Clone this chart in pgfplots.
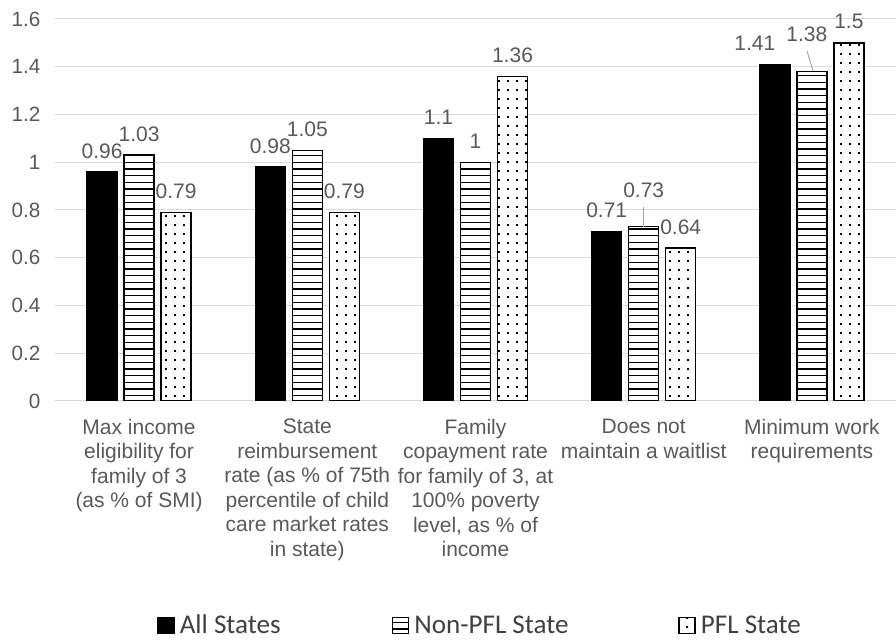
\documentclass[border=0pt]{standalone}
\usepackage{fontspec}
\setmainfont{Liberation Sans}
\newfontfamily\legendfont{Carlito}
\usepackage{pgfplots}
\pgfplotsset{compat=1.18}
\usepackage{pgfplotstable}
\usetikzlibrary{patterns}

\definecolor{labelgray}{HTML}{595959}
\definecolor{gridgray}{HTML}{D9D9D9}
\definecolor{legendgray}{HTML}{404040}
\definecolor{leadergray}{HTML}{A6A6A6}

% fill patterns for the bars
\pgfdeclarepatternformonly{hstripes}{\pgfpoint{-1pt}{0pt}}{\pgfpoint{2pt}{5pt}}{\pgfpoint{1pt}{5pt}}{%
  \pgfsetlinewidth{1.2pt}%
  \pgfpathmoveto{\pgfpoint{-1pt}{2.5pt}}%
  \pgfpathlineto{\pgfpoint{2pt}{2.5pt}}%
  \pgfusepath{stroke}}
\pgfdeclarepatternformonly{sdots}{\pgfpoint{0pt}{0pt}}{\pgfpoint{6.4pt}{6.4pt}}{\pgfpoint{6.4pt}{6.4pt}}{%
  \pgfpathrectangle{\pgfpoint{2.45pt}{2.45pt}}{\pgfpoint{1.5pt}{1.5pt}}%
  \pgfusepath{fill}}

\pgfplotsset{
  sqlegend/.style={legend image code/.code={\draw[##1] (0pt,-6pt) rectangle (12pt,6pt);}},
}

% x = category, y = value, dx/dy = extra label offset (px)
\pgfplotstableread{
x y dx dy
0 0.96 0 0
1 0.98 0 0
2 1.10 0 0
3 0.71 0 0
4 1.41 -20 0
}\allstates
\pgfplotstableread{
x y dx dy
0 1.03 0 0
1 1.05 0 0
2 1.00 0 0
3 0.73 0 15
4 1.38 -5 16
}\nonpfl
\pgfplotstableread{
x y dx dy
0 0.79 0 0
1 0.79 0 0
2 1.36 0 0
3 0.64 0 0
4 1.50 0 0
}\pfl

\begin{document}
\begin{tikzpicture}[x=1pt,y=1pt]
\path[use as bounding box] (0,0) rectangle (672,479.25);
\begin{axis}[
  at={(41.25pt,178.5pt)}, anchor=south west,
  scale only axis, width=630.75pt, height=286.5pt,
  xmin=-0.5, xmax=4.5, ymin=0, ymax=1.6,
  ytick={0,0.2,0.4,0.6,0.8,1,1.2,1.4,1.6},
  xtick={0,1,2,3,4},
  xticklabels={
    {Max income\\eligibility for\\family of 3\\(as \% of SMI)},
    {State\\reimbursement\\rate (as \% of 75th\\percentile of child\\care market rates\\in state)},
    {Family\\copayment rate\\for family of 3, at\\100\% poverty\\level, as \% of\\income},
    {Does not\\maintain a waitlist},
    {Minimum work\\requirements}},
  /pgf/number format/assume math mode=true,
  yticklabel style={/pgf/number format/fixed, xshift=-7.5pt},
  xticklabel style={align=center, yshift=-10pt, font=\fontsize{15.75}{18.4}\selectfont},
  tick label style={text=labelgray},
  yticklabel style={font=\fontsize{15.5}{18}\selectfont},
  ymajorgrids, grid style={gridgray, line width=0.75pt},
  axis x line*=bottom, axis y line*=left,
  x axis line style={gridgray, line width=0.75pt},
  y axis line style={draw=none},
  major tick length=0pt,
  ybar, bar width=22.5pt,
  nodes near coords,
  visualization depends on={\thisrow{dx} \as \dxlab},
  visualization depends on={\thisrow{dy} \as \dylab},
  nodes near coords style={anchor=center, text=labelgray,
    font=\fontsize{15.75}{18.4}\selectfont,
    xshift={0.75*\dxlab*1pt}, yshift={(15.75+0.75*\dylab)*1pt}},
  legend columns=3,
  legend style={draw=none, fill=none, inner sep=0pt,
    at={(0.1213,-0.587)}, anchor=west,
    font=\legendfont\fontsize{20.3}{22}\selectfont, text=legendgray,
    nodes={inner sep=0pt},
    column sep=0pt,
    /tikz/every odd column/.append style={column sep=3.8pt}},
]
\addplot[sqlegend, bar shift=-27.75pt, draw=black, line width=1.1pt, fill=black]
  table[x=x, y=y] {\allstates};
\addlegendentry{\makebox[159pt][l]{All States}}
\addplot[sqlegend, bar shift=0pt, draw=black, line width=1.1pt, fill=white,
  postaction={pattern=hstripes}]
  table[x=x, y=y] {\nonpfl};
\addlegendentry{\makebox[198pt][l]{Non-PFL State}}
\addplot[sqlegend, bar shift=27.75pt, draw=black, line width=1.1pt, fill=white,
  postaction={pattern=sdots}]
  table[x=x, y=y] {\pfl};
\addlegendentry{PFL State}
% leader lines for the two lifted labels
\draw[leadergray, line width=0.75pt] (axis cs:3.0,0.73) -- (axis cs:3.0,0.812);
\draw[leadergray, line width=0.75pt] (axis cs:4.007,1.382) -- (axis cs:3.971,1.466);
\end{axis}
\end{tikzpicture}
\end{document}
